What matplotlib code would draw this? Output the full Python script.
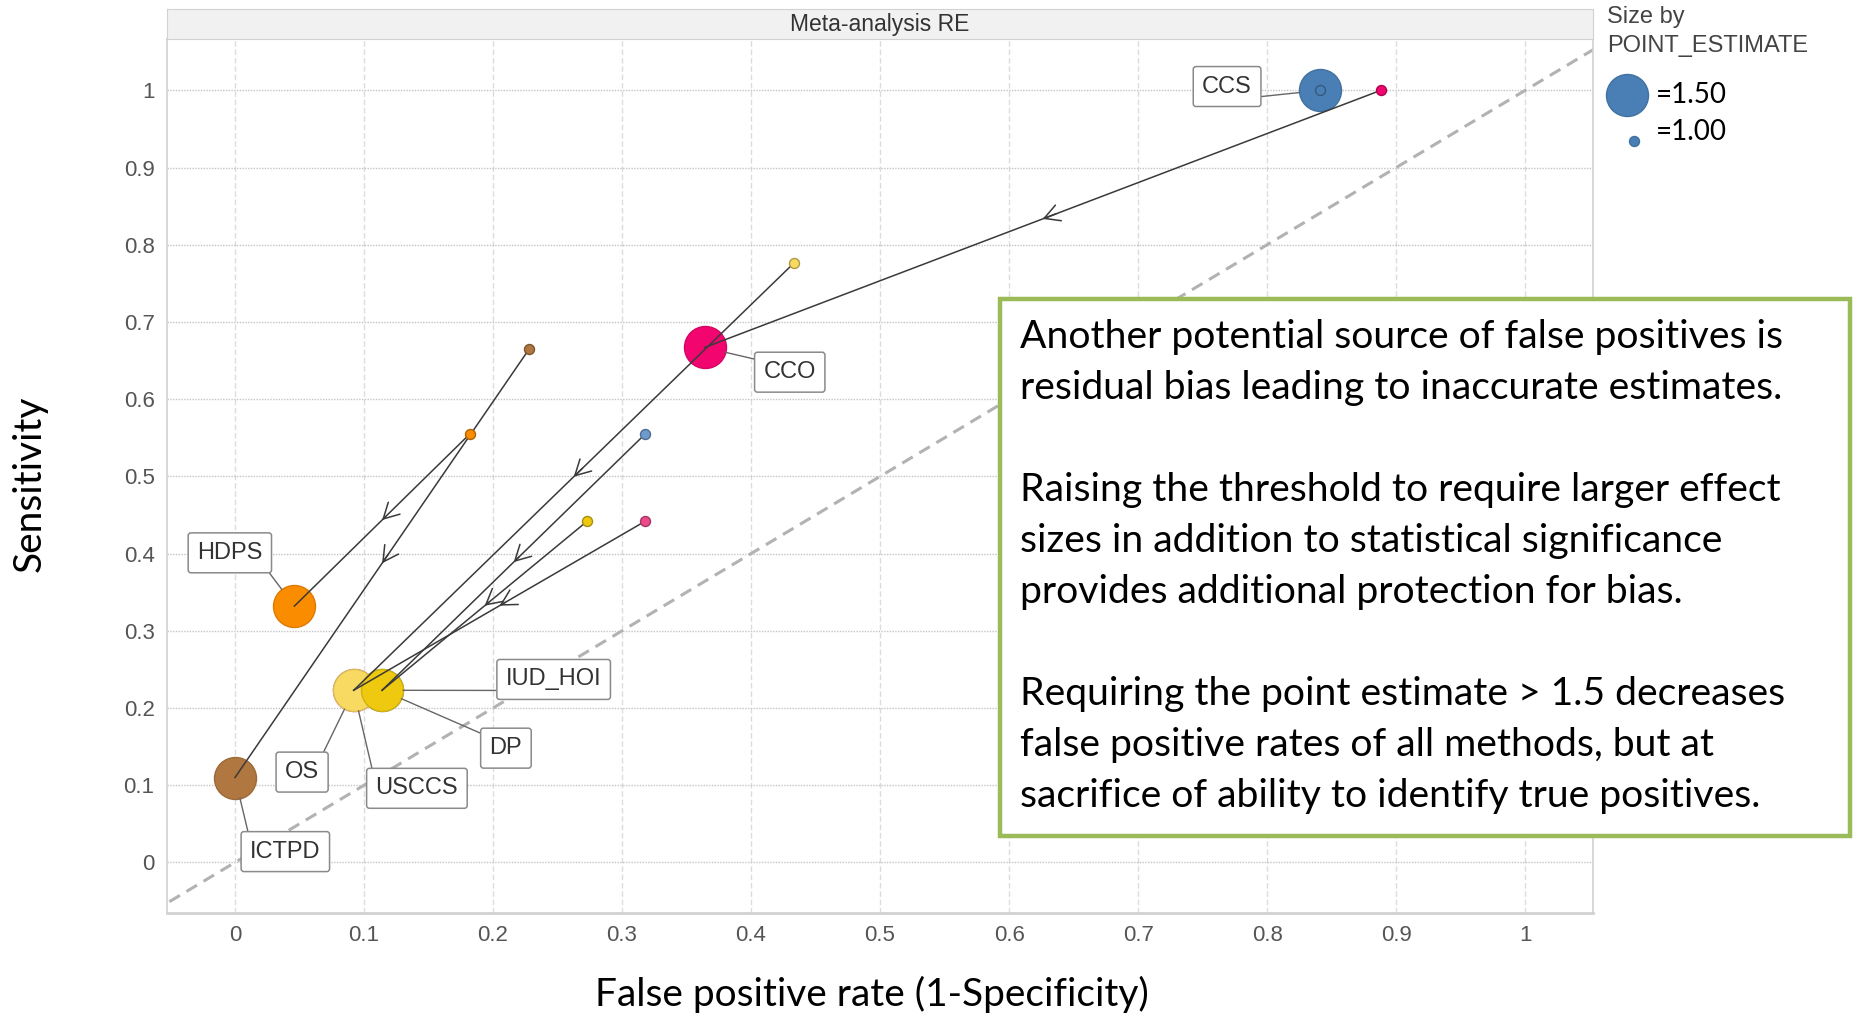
import numpy as np
import matplotlib
matplotlib.use('Agg')
import matplotlib.pyplot as plt
from matplotlib.colors import to_rgb
from matplotlib.patches import Rectangle

# Methods and their operating points at the two point-estimate thresholds
methods = ['CCS', 'CCO', 'HDPS', 'ICTPD', 'USCCS', 'IUD_HOI', 'OS', 'DP']
fpr_pe10 = [0.841, 0.888, 0.182, 0.228, 0.318, 0.318, 0.433, 0.273]
sens_pe10 = [1.000, 1.000, 0.555, 0.665, 0.442, 0.555, 0.776, 0.442]
fpr_pe15 = [0.841, 0.364, 0.046, 0.000, 0.092, 0.114, 0.092, 0.114]
sens_pe15 = [1.000, 0.667, 0.332, 0.110, 0.223, 0.223, 0.223, 0.223]
colors = ['#4A7FB5', '#F2056F', '#FA8C00', '#B07840', '#EC4A8B', '#6E9BCB', '#F8DA63', '#EFC90F']

# where each method's label box sits (data coords) and which corner the leader leaves from
label_x = [0.769, 0.430, -0.004, 0.039, 0.141, 0.247, 0.052, 0.210]
label_y = [1.005, 0.635, 0.401, 0.014, 0.096, 0.237, 0.117, 0.148]
label_relpos = [(1, 0), (0, 1), (1, 0), (0, 1), (0, 0.7), (0, 0), (1, 1), (0, 1)]

tick_vals = [0, 0.1, 0.2, 0.3, 0.4, 0.5, 0.6, 0.7, 0.8, 0.9, 1]
tick_labels = ['0', '0.1', '0.2', '0.3', '0.4', '0.5', '0.6', '0.7', '0.8', '0.9', '1']

legend_values = [1.50, 1.00]

note_lines = [
    'Another potential source of false positives is',
    'residual bias leading to inaccurate estimates.',
    '',
    'Raising the threshold to require larger effect',
    'sizes in addition to statistical significance',
    'provides additional protection for bias.',
    '',
    'Requiring the point estimate > 1.5 decreases',
    'false positive rates of all methods, but at',
    'sacrifice of ability to identify true positives.',
]

DPI = 100
TAB_FONT = ['Liberation Sans', 'DejaVu Sans']
SLIDE_FONT = ['Lato', 'DejaVu Sans']
size_px = {1.0: 10, 1.5: 42}


def px_to_s(d):
    return (d * 72.0 / DPI) ** 2


def darker(c, f=0.78):
    r, g, b = to_rgb(c)
    return (r * f, g * f, b * f)


fig = plt.figure(figsize=(18.6, 10.15), dpi=DPI)
ax = fig.add_axes([0.0898, 0.1005, 0.7667, 0.8611])
ax.set_xlim(-0.0527, 1.0527)
ax.set_ylim(-0.0655, 1.0666)

# grid + frame
ax.set_xticks(tick_vals)
ax.set_yticks(tick_vals)
ax.set_xticklabels(tick_labels, fontsize=16, color='#555555', family=TAB_FONT)
ax.set_yticklabels(tick_labels, fontsize=16, color='#555555', family=TAB_FONT)
ax.tick_params(axis='x', length=0, pad=9)
ax.tick_params(axis='y', length=0, pad=9)
ax.grid(axis='x', color='#dcdcdc', linestyle=(0, (4, 2)), linewidth=1)
ax.grid(axis='y', color='#c4c4c4', linestyle=(0, (1, 1)), linewidth=1)
ax.set_axisbelow(True)
for sp in ax.spines.values():
    sp.set_color('#d2d2d2')
    sp.set_linewidth(1.2)
ax.spines['bottom'].set_linewidth(2)

# diagonal reference
ax.plot([-0.2, 1.2], [-0.2, 1.2], linestyle=(0, (4, 2.5)), color='#b2b2b2', linewidth=2.2, zorder=1)

big_s = px_to_s(size_px[1.5])
small_s = px_to_s(size_px[1.0])
big_r_pt = size_px[1.5] / 2 * 72.0 / DPI

for i, m in enumerate(methods):
    ax.scatter(fpr_pe15[i], sens_pe15[i], s=big_s, color=colors[i],
               edgecolors=[darker(colors[i], 0.88)], linewidths=1, zorder=3)

for i, m in enumerate(methods):
    x0, y0 = fpr_pe10[i], sens_pe10[i]
    x1, y1 = fpr_pe15[i], sens_pe15[i]
    if (x0, y0) == (x1, y1):
        continue
    ax.plot([x0, x1], [y0, y1], color='#3a3a3a', linewidth=1.1, zorder=4)
    mx, my = (x0 + x1) / 2, (y0 + y1) / 2
    ax.annotate('', xy=(mx, my), xytext=(mx + (x0 - x1) * 0.02, my + (y0 - y1) * 0.02),
                arrowprops=dict(arrowstyle='->,head_length=0.55,head_width=0.3',
                                mutation_scale=20, color='#3a3a3a', lw=1.1,
                                shrinkA=0, shrinkB=0), zorder=4)

for i, m in enumerate(methods):
    ax.scatter(fpr_pe10[i], sens_pe10[i], s=small_s, color=colors[i],
               edgecolors=[darker(colors[i], 0.7)], linewidths=1, zorder=5)

# method labels
for i, m in enumerate(methods):
    ax.annotate(m, xy=(fpr_pe15[i], sens_pe15[i]), xytext=(label_x[i], label_y[i]),
                ha='center', va='center', fontsize=17, color='#333333', family=TAB_FONT,
                bbox=dict(boxstyle='round,pad=0.38,rounding_size=0.12', fc='white',
                          ec='#8a8a8a', lw=1.1),
                arrowprops=dict(arrowstyle='-', color='#666666', lw=1,
                                shrinkA=0, shrinkB=big_r_pt, relpos=label_relpos[i]),
                zorder=6)

# header strip
hax = fig.add_axes([0.0898, 0.9616, 0.7667, 0.0291])
hax.set_facecolor('#f1f1f1')
hax.set_xticks([])
hax.set_yticks([])
for sp in hax.spines.values():
    sp.set_color('#d2d2d2')
hax.text(0.5, 0.48, 'Meta-analysis RE', ha='center', va='center', fontsize=16.5,
         color='#333333', family=TAB_FONT, transform=hax.transAxes)

# axis titles
fig.text(30 / 1860, 1 - 484 / 1015, 'Sensitivity', rotation=90, ha='center', va='center',
         fontsize=28, family=SLIDE_FONT, color='black')
fig.text(872 / 1860, 1 - 994 / 1015, 'False positive rate (1-Specificity)', ha='center',
         va='center', fontsize=28, family=SLIDE_FONT, color='black')

# size legend
fig.text(1607 / 1860, 1 - 17 / 1015, 'Size by', ha='left', va='center', fontsize=17,
         color='#444444', family=TAB_FONT)
fig.text(1607 / 1860, 1 - 46 / 1015, 'POINT_ESTIMATE', ha='left', va='center', fontsize=17,
         color='#444444', family=TAB_FONT)
leg_x = [1627 / 1860, 1634 / 1860]
leg_y = [1 - 95 / 1015, 1 - 141 / 1015]
leg_txt_y = [1 - 95 / 1015, 1 - 132 / 1015]
for k, v in enumerate(legend_values):
    fig.add_artist(plt.Line2D([leg_x[k]], [leg_y[k]], marker='o', linestyle='none',
                              markersize=size_px[v] * 72.0 / DPI, color='#4A7FB5',
                              markeredgecolor=darker('#4A7FB5', 0.88), transform=fig.transFigure))
    fig.text(1656 / 1860, leg_txt_y[k], '=%.2f' % v, ha='left', va='center', fontsize=20,
             family=SLIDE_FONT, color='black')

# note box
fig.add_artist(Rectangle((1000 / 1860, 1 - 836 / 1015), 850 / 1860, 537 / 1015,
                         transform=fig.transFigure, facecolor='white', edgecolor='#9BBB59',
                         linewidth=3.2, zorder=10))
for k, line in enumerate(note_lines):
    if not line:
        continue
    fig.text(1020 / 1860, 1 - (336.8 + 51 * k) / 1015, line, ha='left', va='center',
             fontsize=28.2, family=SLIDE_FONT, color='black', zorder=11)

fig.savefig('out.png', dpi=DPI)
